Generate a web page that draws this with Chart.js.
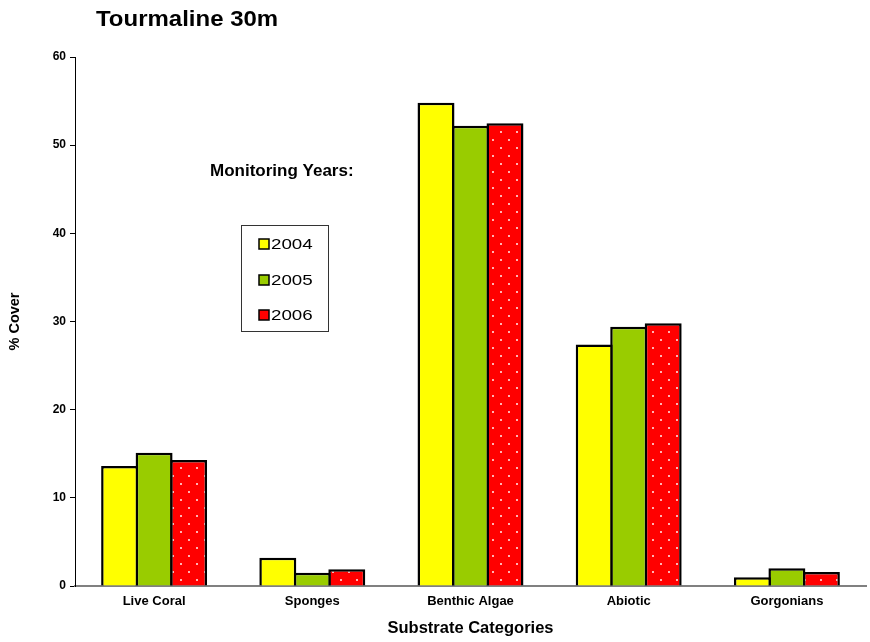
<!DOCTYPE html>
<html>
<head>
<meta charset="utf-8">
<style>
  html, body { margin: 0; padding: 0; background: #ffffff; }
  #wrap { width: 870px; height: 642px; }
</style>
<script src="https://cdn.jsdelivr.net/npm/chart.js@4.4.1/dist/chart.umd.min.js"></script>
</head>
<body>
<div id="wrap"><canvas id="chart" width="870" height="642"></canvas></div>
<script>
// Percent cover per substrate category, by monitoring year
const categories = ['Live Coral', 'Sponges', 'Benthic Algae', 'Abiotic', 'Gorgonians'];
const years = ['2004', '2005', '2006'];
const cover2004 = [13.6, 3.2, 54.8, 27.4, 1.0];
const cover2005 = [15.1, 1.5, 52.2, 29.4, 2.0];
const cover2006 = [14.3, 1.9, 52.5, 29.8, 1.6];
const yTicks = [0, 10, 20, 30, 40, 50, 60];

const FONT = '"Liberation Sans", Arial, sans-serif';

// Red fill with a sparse staggered white dot texture
function dottedRed() {
  const c = document.createElement('canvas');
  c.width = 16; c.height = 16;
  const g = c.getContext('2d');
  g.fillStyle = '#ff0000';
  g.fillRect(0, 0, 16, 16);
  g.fillStyle = '#ffb4b4';
  g.fillRect(4, 3, 2, 2);
  g.fillRect(12, 11, 2, 2);
  return g.createPattern(c, 'repeat');
}

const swatches = ['#ffff00', '#99cc00', '#ff0000'];

// Text with an optional horizontal stretch
function text(ctx, str, x, y, font, sx) {
  ctx.save();
  ctx.font = font;
  ctx.translate(x, y);
  ctx.scale(sx || 1, 1);
  ctx.fillText(str, 0, 0);
  ctx.restore();
}

// Title, legend box and caption drawn on top of the plot
const overlay = {
  id: 'overlay',
  afterDraw(chart) {
    const ctx = chart.ctx;
    ctx.save();
    ctx.fillStyle = '#000';
    ctx.textBaseline = 'middle';
    ctx.textAlign = 'left';
    text(ctx, 'Tourmaline 30m', 96, 20, 'bold 22px ' + FONT, 1.09);
    text(ctx, 'Monitoring Years:', 210, 171, 'bold 17px ' + FONT, 1.0);

    ctx.strokeStyle = '#333';
    ctx.lineWidth = 1;
    ctx.strokeRect(241.5, 225.5, 87, 106);

    const rows = [244, 280, 315];
    chart.data.datasets.forEach((ds, i) => {
      ctx.fillStyle = swatches[i];
      ctx.fillRect(259, rows[i] - 5, 10, 10);
      ctx.strokeStyle = '#000';
      ctx.lineWidth = 1.5;
      ctx.strokeRect(259, rows[i] - 5, 10, 10);
      ctx.fillStyle = '#000';
      text(ctx, ds.label, 271, rows[i] + 1, '15px ' + FONT, 1.25);
    });
    ctx.restore();
  }
};

new Chart(document.getElementById('chart'), {
  type: 'bar',
  data: {
    labels: categories,
    datasets: [
      { label: years[0], data: cover2004, backgroundColor: '#ffff00' },
      { label: years[1], data: cover2005, backgroundColor: '#99cc00' },
      { label: years[2], data: cover2006, backgroundColor: dottedRed() }
    ]
  },
  options: {
    responsive: false,
    animation: false,
    layout: { padding: { left: 0, top: 57, right: 4, bottom: 0 } },
    datasets: {
      bar: {
        borderColor: '#000',
        borderWidth: 2.5,
        categoryPercentage: 0.654,
        barPercentage: 1.072
      }
    },
    plugins: {
      legend: { display: false },
      title: { display: false },
      tooltip: { enabled: false }
    },
    scales: {
      x: {
        grid: { display: false, drawTicks: false },
        border: { display: true, color: '#808080', width: 2 },
        ticks: { color: '#000', font: { family: FONT, size: 13, weight: 'bold' }, padding: 8 },
        title: {
          display: true, text: 'Substrate Categories', color: '#000',
          font: { family: FONT, size: 16.5, weight: 'bold' }, padding: { top: 4, bottom: 4 }
        },
        afterFit(s) { s.height = 56; }
      },
      y: {
        min: 0, max: 60,
        afterBuildTicks(s) { s.ticks = yTicks.map(v => ({ value: v })); },
        grid: { display: true, drawOnChartArea: false, drawTicks: true, tickLength: 5, color: '#000', lineWidth: 1 },
        border: { display: true, color: '#000', width: 1 },
        ticks: { color: '#000', font: { family: FONT, size: 12, weight: 'bold' }, padding: 4 },
        title: {
          display: true, text: '% Cover', color: '#000',
          font: { family: FONT, size: 14.5, weight: 'bold' }, padding: { top: 6, bottom: 0 }
        },
        afterFit(s) { s.width = 75; }
      }
    }
  },
  plugins: [overlay]
});
</script>
</body>
</html>
